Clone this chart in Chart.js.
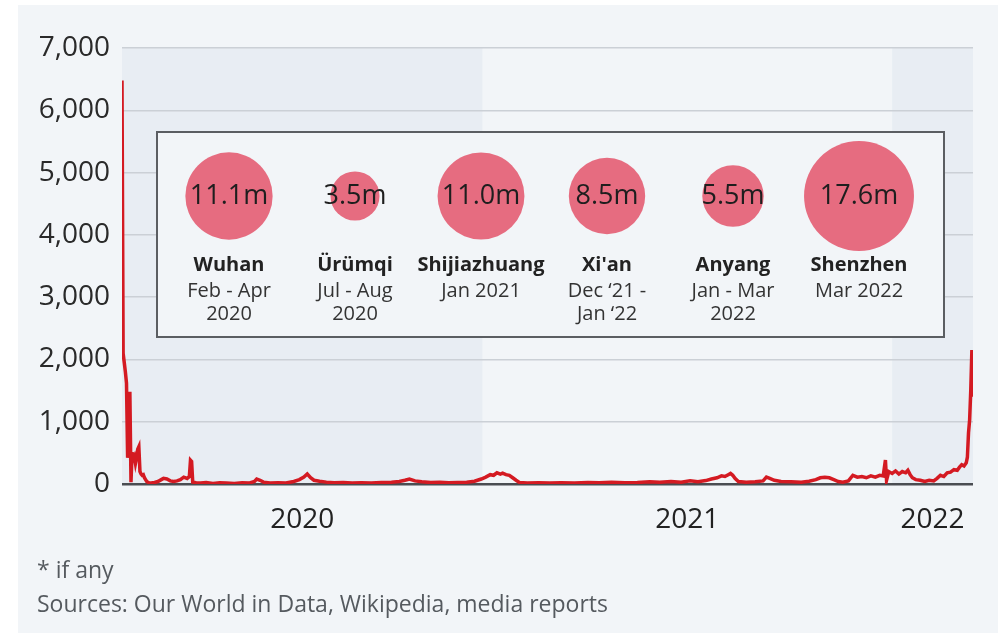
<!DOCTYPE html>
<html lang="en">
<head>
    <meta charset="UTF-8">
    <title>China lockdowns and daily cases</title>
    <script src="https://cdn.jsdelivr.net/npm/chart.js@4.4.1/dist/chart.umd.min.js"></script>
    <style>
        body {
            margin: 0;
            background: #fff;
            font-family: "Open Sans", sans-serif;
        }
        #panel {
            position: absolute;
            left: 18px;
            top: 5px;
            width: 980px;
            height: 628px;
            background: #f2f5f8;
        }
        #mainChart {
            position: absolute;
            left: 0;
            top: 0;
        }
        #inset {
            position: absolute;
            left: 138px;
            top: 126px;
            width: 785px;
            height: 203px;
            border: 2px solid #5b5e62;
            background: #f2f5f8;
        }
        .note {
            position: absolute;
            left: 19px;
            font-size: 23px;
            color: #555a5f;
        }
    </style>
</head>
<body>
    <div id="panel">
        <canvas id="mainChart" width="980" height="628"></canvas>
        <div id="inset">
            <canvas id="bubbleChart" width="785" height="203"></canvas>
        </div>
        <div class="note" style="top: 548px;">* if any</div>
        <div class="note" style="top: 582px;">Sources: Our World in Data, Wikipedia, media reports</div>
    </div>
    <script>
        // daily new cases
        var caseDates = [
            '2020-02-15','2020-02-16','2020-02-17','2020-02-18','2020-02-19','2020-02-20','2020-02-21','2020-02-22',
            '2020-02-23','2020-02-24','2020-02-25','2020-02-26','2020-02-27','2020-02-28','2020-02-29','2020-03-01',
            '2020-03-02','2020-03-03','2020-03-04','2020-03-05','2020-03-06','2020-03-07','2020-03-08','2020-03-10',
            '2020-03-12','2020-03-15','2020-03-18','2020-03-21','2020-03-23','2020-03-26','2020-03-29','2020-04-01',
            '2020-04-04','2020-04-07','2020-04-10','2020-04-13','2020-04-15','2020-04-16','2020-04-17','2020-04-18',
            '2020-04-21','2020-04-25','2020-04-30','2020-05-06','2020-05-12','2020-05-18','2020-05-25','2020-06-01',
            '2020-06-07','2020-06-12','2020-06-14','2020-06-17','2020-06-20','2020-06-26','2020-07-03','2020-07-10',
            '2020-07-17','2020-07-22','2020-07-26','2020-07-29','2020-08-01','2020-08-04','2020-08-09','2020-08-15',
            '2020-08-22','2020-08-30','2020-09-07','2020-09-15','2020-09-24','2020-10-03','2020-10-12','2020-10-19',
            '2020-10-24','2020-10-28','2020-11-02','2020-11-08','2020-11-16','2020-11-24','2020-12-02','2020-12-10',
            '2020-12-18','2020-12-25','2020-12-31','2021-01-04','2021-01-08','2021-01-11','2021-01-14','2021-01-17',
            '2021-01-19','2021-01-22','2021-01-25','2021-01-28','2021-01-31','2021-02-03','2021-02-10','2021-02-20',
            '2021-03-02','2021-03-12','2021-03-24','2021-04-05','2021-04-15','2021-04-26','2021-05-08','2021-05-19',
            '2021-05-30','2021-06-08','2021-06-18','2021-06-27','2021-07-05','2021-07-12','2021-07-19','2021-07-24',
            '2021-07-29','2021-08-02','2021-08-05','2021-08-08','2021-08-10','2021-08-12','2021-08-14','2021-08-17',
            '2021-08-24','2021-09-01','2021-09-08','2021-09-11','2021-09-14','2021-09-18','2021-09-24','2021-10-03',
            '2021-10-12','2021-10-19','2021-10-25','2021-10-29','2021-11-02','2021-11-06','2021-11-10','2021-11-14',
            '2021-11-18','2021-11-23','2021-11-27','2021-12-01','2021-12-05','2021-12-09','2021-12-13','2021-12-17',
            '2021-12-21','2021-12-24','2021-12-26','2021-12-27','2021-12-29','2022-01-01','2022-01-04','2022-01-07',
            '2022-01-10','2022-01-13','2022-01-15','2022-01-17','2022-01-19','2022-01-22','2022-01-26','2022-01-30',
            '2022-02-03','2022-02-07','2022-02-10','2022-02-13','2022-02-16','2022-02-19','2022-02-22','2022-02-25',
            '2022-02-28','2022-03-02','2022-03-04','2022-03-06','2022-03-08','2022-03-09','2022-03-10','2022-03-11',
            '2022-03-12','2022-03-13','2022-03-14'
        ];
        var caseValues = [
            6480, 2100, 1950, 1800, 1620, 420, 880, 1480,
            30, 510, 400, 440, 330, 420, 560, 600,
            200, 160, 140, 150, 100, 70, 40, 20,
            15, 25, 40, 70, 90, 80, 50, 40,
            50, 70, 110, 90, 120, 380, 360, 30,
            20, 15, 25, 10, 20, 15, 10, 20,
            15, 40, 80, 60, 30, 15, 20, 15,
            40, 70, 110, 160, 100, 60, 45, 30,
            20, 25, 15, 20, 15, 25, 30, 40,
            60, 80, 50, 35, 25, 30, 20, 25,
            30, 45, 80, 110, 150, 140, 180, 160,
            175, 150, 140, 100, 60, 25, 15, 20,
            15, 20, 15, 25, 20, 30, 20, 25,
            35, 30, 40, 30, 50, 35, 55, 80,
            100, 130, 120, 150, 170, 140, 90, 40,
            30, 35, 50, 110, 90, 60, 40, 35,
            30, 45, 70, 100, 110, 100, 70, 40,
            30, 50, 140, 110, 120, 100, 130, 110,
            140, 130, 385, 60, 200, 170, 210, 160,
            200, 180, 220, 150, 100, 70, 60, 40,
            60, 50, 90, 140, 120, 180, 190, 230,
            220, 270, 310, 290, 340, 430, 820, 1030,
            1500, 2150, 1400
        ];
        var axisStart = '2020-02-15';
        var axisEnd = '2022-03-14';
        var yearLabels = ['2020', '2021', '2022'];
        var yearStarts = ['2021-01-01', '2022-01-01'];
        var yTicks = [0, 1000, 2000, 3000, 4000, 5000, 6000, 7000];

        // lockdowns: population in millions
        var cities = ['Wuhan', 'Ürümqi', 'Shijiazhuang', "Xi'an", 'Anyang', 'Shenzhen'];
        var periods = [
            ['Feb - Apr', '2020'],
            ['Jul - Aug', '2020'],
            ['Jan 2021'],
            ['Dec \u201821 -', 'Jan \u201822'],
            ['Jan - Mar', '2022'],
            ['Mar 2022']
        ];
        var populations = [11.1, 3.5, 11.0, 8.5, 5.5, 17.6];

        function dayNum(d) {
            return (Date.parse(d) - Date.parse('2020-01-01')) / 86400000;
        }

        var lineData = caseDates.map(function(d, i) {
            return { x: dayNum(d), y: caseValues[i] };
        });

        var xMin = dayNum(axisStart);
        var xMax = dayNum(axisEnd);
        var edges = [xMin].concat(yearStarts.map(dayNum)).concat([xMax]);
        var yearCenters = yearLabels.map(function(y, i) {
            return (edges[i] + edges[i + 1]) / 2;
        });

        var yearBands = {
            id: 'yearBands',
            beforeDraw: function(chart) {
                var ctx = chart.ctx;
                var area = chart.chartArea;
                var xs = chart.scales.x;
                ctx.save();
                ctx.fillStyle = '#e8edf3';
                for (var i = 0; i < yearLabels.length; i += 2) {
                    var l = xs.getPixelForValue(edges[i]);
                    var r = xs.getPixelForValue(edges[i + 1]);
                    ctx.fillRect(l, area.top, r - l, area.bottom - area.top);
                }
                ctx.restore();
            }
        };

        new Chart(document.getElementById('mainChart').getContext('2d'), {
            type: 'line',
            data: {
                datasets: [{
                    data: lineData,
                    borderColor: '#d41a22',
                    borderWidth: 3.5,
                    pointRadius: 0,
                    tension: 0,
                    fill: false
                }]
            },
            options: {
                responsive: false,
                animation: false,
                layout: { padding: { left: 0, top: 43, right: 25, bottom: 79 } },
                plugins: { legend: { display: false }, tooltip: { enabled: false } },
                scales: {
                    x: {
                        type: 'linear',
                        min: xMin,
                        max: xMax,
                        afterBuildTicks: function(scale) {
                            scale.ticks = yearCenters.map(function(v) { return { value: v }; });
                        },
                        afterFit: function(scale) { scale.height = 70; },
                        grid: { display: false },
                        border: { display: false },
                        ticks: {
                            autoSkip: false,
                            maxRotation: 0,
                            padding: 11,
                            color: '#222',
                            font: { family: 'Open Sans', size: 28 },
                            callback: function(v, i) { return yearLabels[i]; }
                        }
                    },
                    y: {
                        min: 0,
                        max: 7000,
                        afterBuildTicks: function(scale) {
                            scale.ticks = yTicks.map(function(v) { return { value: v }; });
                        },
                        afterFit: function(scale) { scale.width = 104; },
                        border: { display: false },
                        grid: {
                            drawTicks: false,
                            color: function(c) { return c.tick.value === 0 ? '#4a4d52' : '#cbd0d6'; },
                            lineWidth: function(c) { return c.tick.value === 0 ? 2.5 : 1.5; }
                        },
                        ticks: {
                            padding: 12,
                            color: '#2a2a2a',
                            font: { family: 'Open Sans', size: 28 },
                            callback: function(v) { return v.toLocaleString('en-US'); }
                        }
                    }
                }
            },
            plugins: [yearBands]
        });

        var bubbleLabels = {
            id: 'bubbleLabels',
            afterDatasetsDraw: function(chart) {
                var ctx = chart.ctx;
                var meta = chart.getDatasetMeta(0);
                ctx.save();
                ctx.textAlign = 'center';
                ctx.textBaseline = 'middle';
                meta.data.forEach(function(pt, i) {
                    ctx.fillStyle = '#1e1e1e';
                    ctx.font = '27px "Open Sans"';
                    ctx.fillText(populations[i].toFixed(1) + 'm', pt.x, pt.y);
                    ctx.font = 'bold 20px "Open Sans"';
                    ctx.fillStyle = '#222';
                    ctx.fillText(cities[i], pt.x, 132);
                    ctx.font = '20px "Open Sans"';
                    ctx.fillStyle = '#333';
                    periods[i].forEach(function(line, j) {
                        ctx.fillText(line, pt.x, 158 + j * 23);
                    });
                });
                ctx.restore();
            }
        };

        new Chart(document.getElementById('bubbleChart').getContext('2d'), {
            type: 'bubble',
            data: {
                datasets: [{
                    data: populations.map(function(p, i) {
                        return { x: i, y: 0, r: 13.1 * Math.sqrt(p) };
                    }),
                    backgroundColor: '#e66c80',
                    borderWidth: 0,
                    clip: false
                }]
            },
            options: {
                responsive: false,
                animation: false,
                layout: { autoPadding: false, padding: { left: 8, right: 21, top: 10, bottom: 87 } },
                plugins: { legend: { display: false }, tooltip: { enabled: false } },
                scales: {
                    x: { type: 'linear', min: -0.5, max: 5.5, display: false },
                    y: { min: -1, max: 1, display: false }
                }
            },
            plugins: [bubbleLabels]
        });
    </script>
</body>
</html>
